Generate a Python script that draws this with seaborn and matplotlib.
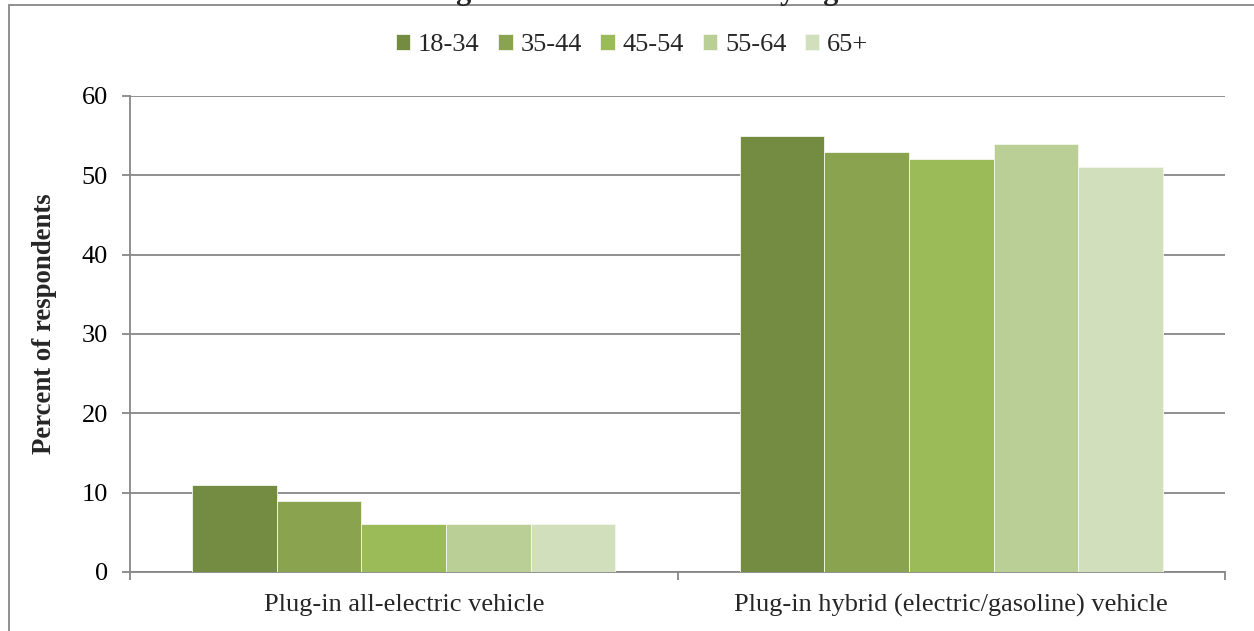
import matplotlib
matplotlib.use("Agg")
import matplotlib.pyplot as plt
from matplotlib.patches import Rectangle
import seaborn as sns
import pandas as pd

categories = ["Plug-in all-electric vehicle",
              "Plug-in hybrid (electric/gasoline) vehicle"]
age_groups = ["18-34", "35-44", "45-54", "55-64", "65+"]
all_electric = [11, 9, 6, 6, 6]
plugin_hybrid = [55, 53, 52, 54, 51]
y_ticks = [0, 10, 20, 30, 40, 50, 60]
title_text = "Plug-in Vehicle Preference by Age"

palette = ["#748C41", "#89A34F", "#9BBB59", "#BACF95", "#D1DFBC"]

rows = []
for cat, vals in zip(categories, [all_electric, plugin_hybrid]):
    for age, v in zip(age_groups, vals):
        rows.append({"Vehicle": cat, "Age": age, "Percent": v})
df = pd.DataFrame(rows)

sns.set_theme(style="white")
plt.rcParams["font.family"] = ["Liberation Serif", "DejaVu Serif"]
FS = 19

fig = plt.figure(figsize=(12.54, 6.31), dpi=100)
ax = fig.add_axes([130 / 1254, 1 - 572 / 631, (1225 - 130) / 1254, (572 - 96) / 631])

sns.barplot(data=df, x="Vehicle", y="Percent", hue="Age", order=categories,
            hue_order=age_groups, palette=palette, width=0.773,
            edgecolor="#F4F7EE", linewidth=0.6, saturation=1, ax=ax,
            legend=True, zorder=3)

grid_c = "#878787"
ax.set_xlim(-0.5, 1.5)
ax.set_ylim(0, 60)
ax.set_yticks(y_ticks)
ax.set_yticklabels([str(t) for t in y_ticks], fontsize=FS, color="black")
ax.yaxis.grid(True, color=grid_c, linewidth=1.3, zorder=0)
ax.set_axisbelow(True)
for s in ["top", "right"]:
    ax.spines[s].set_visible(False)
for s in ["left", "bottom"]:
    ax.spines[s].set_color(grid_c)
    ax.spines[s].set_linewidth(1.3)
ax.tick_params(axis="y", which="major", length=6, width=1.3, color=grid_c,
               direction="out", pad=10, left=True)

# category labels centred under each group, ticks on group boundaries
ax.set_xticks([-0.5, 0.5, 1.5])
ax.set_xticklabels([])
ax.tick_params(axis="x", which="major", length=6, width=1.3, color=grid_c,
               direction="out", bottom=True)
ax.set_xticks([0, 1], minor=True)
ax.set_xticklabels(categories, minor=True, fontsize=FS)
ax.tick_params(axis="x", which="minor", length=0, pad=16)

ax.set_xlabel("")
ax.set_ylabel("Percent of respondents", fontsize=19.3, fontweight="bold")
ax.yaxis.set_label_coords(-73 / 1095, (572 - 324) / 476)

handles, labels = ax.get_legend_handles_labels()
ax.legend(handles, labels, loc="center", bbox_to_anchor=(632 / 1254, 1 - 45 / 631),
          bbox_transform=fig.transFigure, ncol=5, frameon=False, fontsize=FS,
          handlelength=0.55, handleheight=0.55, handletextpad=0.3,
          columnspacing=0.7, borderaxespad=0)

# outer chart frame
fig.patches.append(Rectangle((8.5 / 1254, -0.05), 1.2, 1 - 5.5 / 631 + 0.05,
                             transform=fig.transFigure, fill=False,
                             edgecolor=grid_c, linewidth=1.3))

fig.text(632 / 1254, 1 + 1.5 / 631, title_text, ha="center", va="baseline",
         fontsize=22, fontweight="bold")

fig.savefig("out.png", dpi=100)
